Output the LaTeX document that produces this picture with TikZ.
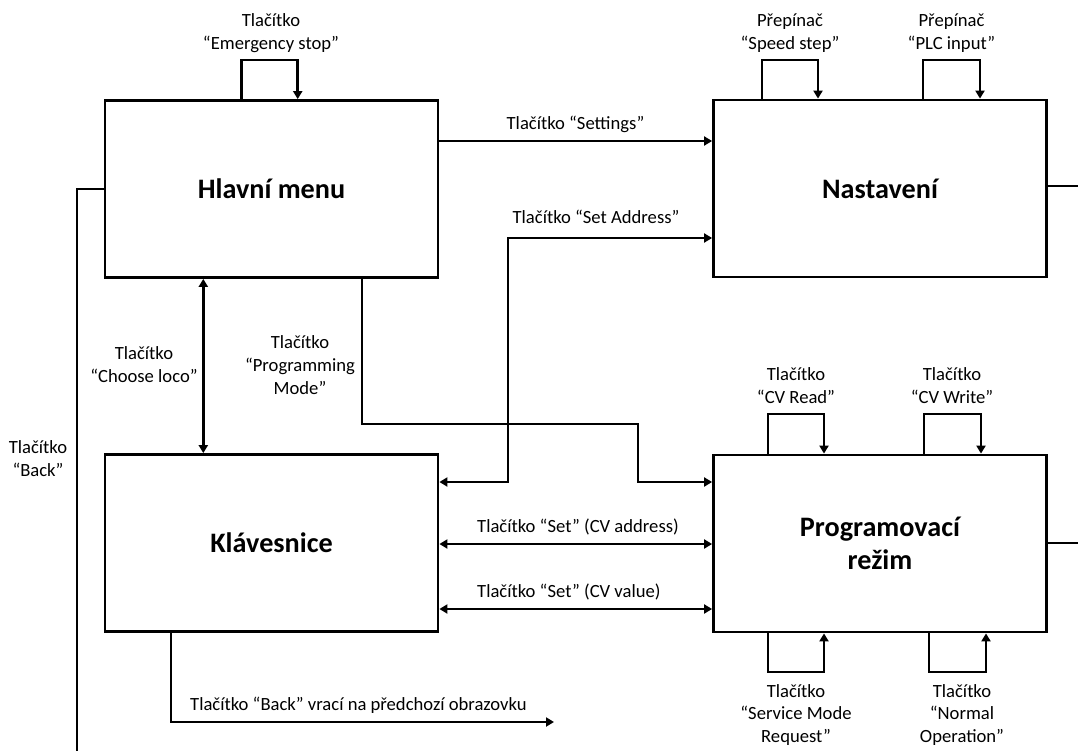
\documentclass[tikz,border=0pt]{standalone}
\usepackage{fontspec}
\setmainfont{Carlito}
\usetikzlibrary{arrows.meta}
\begin{document}
\begin{tikzpicture}[x=1bp,y=-1bp,
  box/.style={draw, line width=2.8bp, minimum width=333bp, minimum height=177bp, inner sep=0pt, font=\fontsize{28.3}{33.5}\selectfont\bfseries, align=center},
  lbl/.style={font=\fontsize{18.7}{23}\selectfont, align=center, inner sep=0pt},
  wire/.style={line width=2.8bp},
  arr/.style={wire, -{Triangle[length=8bp,width=9bp]}},
  darr/.style={wire, {Triangle[length=8bp,width=9bp]}-{Triangle[length=8bp,width=9bp]}},
]
\useasboundingbox (0,0) rectangle (1078,751);

% boxes
\node[box] (hm) at (271.5,189) {Hlavní menu};
\node[box] (ns) at (880,188.5) {Nastavení};
\node[box] (kl) at (271.5,543) {Klávesnice};
\node[box] (pr) at (880,543.5) {Programovací\\režim};

% self loops
\draw[arr] (hm.north -| 241.7,0) |- (297.7,60) -- (hm.north -| 297.7,0);
\draw[arr] (ns.north -| 762,0) |- (818,60) -- (ns.north -| 818,0);
\draw[arr] (ns.north -| 923,0) |- (980,60) -- (ns.north -| 980,0);
\draw[arr] (pr.north -| 768,0) |- (824,414) -- (pr.north -| 824,0);
\draw[arr] (pr.north -| 924,0) |- (981,414) -- (pr.north -| 981,0);
\draw[arr] (pr.south -| 768,0) |- (824,672) -- (pr.south -| 824,0);
\draw[arr] (pr.south -| 929,0) |- (986,672) -- (pr.south -| 986,0);

\node[lbl] (lEm) at (271,33) {Tlačítko\\“Emergency stop”};
\node[lbl] (lSp) at (790,33) {Přepínač\\“Speed step”};
\node[lbl] (lPl) at (951.5,33) {Přepínač\\“PLC input”};
\node[lbl] (lRd) at (796,386) {Tlačítko\\“CV Read”};
\node[lbl] (lWr) at (952,386) {Tlačítko\\“CV Write”};
\node[lbl] (lSm) at (796,715) {Tlačítko\\“Service Mode\\Request”};
\node[lbl] (lNo) at (962,715) {Tlačítko\\“Normal\\Operation”};

% connectors
\draw[arr] (hm.east |- 0,141) -- (ns.west |- 0,141);
\node[lbl] (lSet) at (575.5,124) {Tlačítko “Settings”};

\draw[darr] (kl.east |- 0,482) -| (508,238) -- (ns.west |- 0,238);
\node[lbl] (lAd) at (596,217) {Tlačítko “Set Address”};

\draw[arr] (hm.south -| 362,0) |- (638,424) |- (pr.west |- 0,482);
\node[lbl] (lPm) at (300,365) {Tlačítko\\“Programming\\Mode”};

\draw[darr] (hm.south -| 203.3,0) -- (kl.north -| 203.3,0);
\node[lbl] (lCl) at (144,365) {Tlačítko\\“Choose loco”};

\draw[darr] (kl.east |- 0,544) -- (pr.west |- 0,544);
\node[lbl, anchor=west] (lCa) at (477,527) {Tlačítko “Set” (CV address)};
\draw[darr] (kl.east |- 0,609) -- (pr.west |- 0,609);
\node[lbl, anchor=west] (lCv) at (477,592) {Tlačítko “Set” (CV value)};

\coordinate (backend) at (554,722);
\draw[arr] (kl.south -| 171,0) |- (backend);
\node[lbl, anchor=west] (lBk) at (190,705) {Tlačítko “Back” vrací na předchozí obrazovku};

\coordinate (leftend) at (77,751);
\draw[wire] (hm.west |- 0,189) -| (leftend);
\node[lbl] (lBa) at (38,459) {Tlačítko\\“Back”};

\coordinate (r1) at (1078,186);
\coordinate (r2) at (1078,543);
\draw[wire] (ns.east |- 0,186) -- (r1);
\draw[wire] (pr.east |- 0,543) -- (r2);
\end{tikzpicture}
\end{document}
